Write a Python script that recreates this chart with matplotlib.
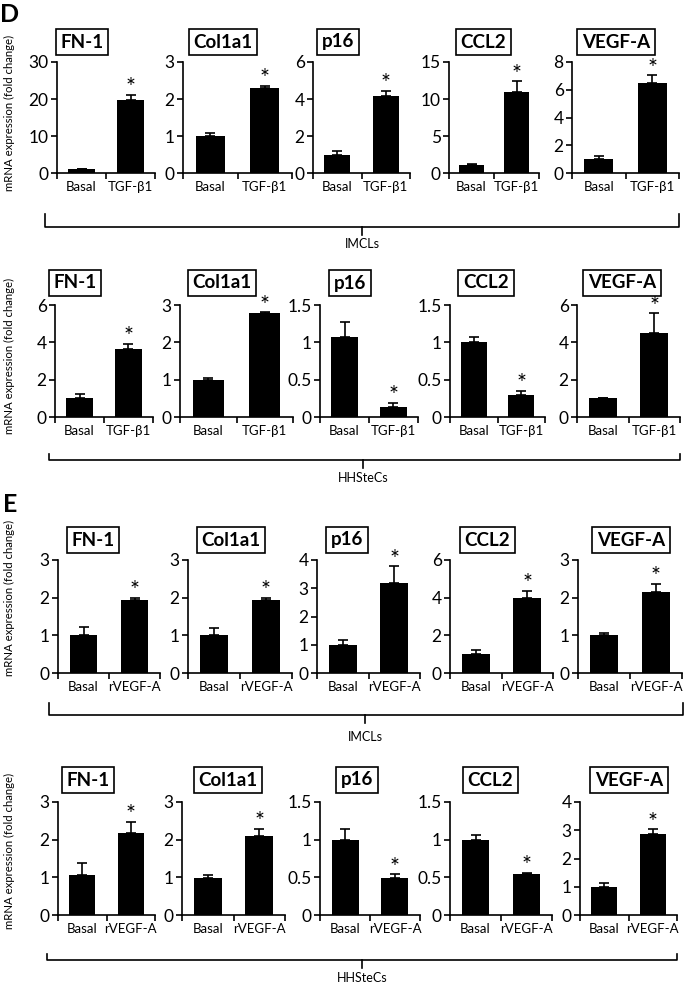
import matplotlib
matplotlib.use("Agg")
import matplotlib.pyplot as plt
import numpy as np

plt.rcParams['font.family'] = ['Lato', 'DejaVu Sans']

genes = ["FN-1", "Col1a1", "p16", "CCL2", "VEGF-A"]

# panel D, IMCLs (TGF-b1)
d_imcl_basal = [1.0, 1.0, 1.0, 1.04, 1.0]
d_imcl_basal_err = [0.08, 0.09, 0.19, 0.2, 0.2]
d_imcl_treat = [19.7, 2.31, 4.16, 10.95, 6.51]
d_imcl_treat_err = [1.4, 0.04, 0.27, 1.45, 0.53]
d_imcl_ymax = [30, 3, 6, 15, 8]
d_imcl_ystep = [10, 1, 2, 5, 2]

# panel D, HHSteCs (TGF-b1)
d_hh_basal = [1.04, 1.0, 1.07, 1.0, 1.0]
d_hh_basal_err = [0.2, 0.04, 0.2, 0.07, 0.04]
d_hh_treat = [3.64, 2.78, 0.13, 0.3, 4.49]
d_hh_treat_err = [0.27, 0.02, 0.06, 0.05, 1.06]
d_hh_ymax = [6, 3, 1.5, 1.5, 6]
d_hh_ystep = [2, 1, 0.5, 0.5, 2]

# panel E, IMCLs (rVEGF-A)
e_imcl_basal = [1.01, 1.01, 1.0, 1.01, 1.0]
e_imcl_basal_err = [0.2, 0.19, 0.16, 0.19, 0.05]
e_imcl_treat = [1.95, 1.95, 3.19, 4.0, 2.16]
e_imcl_treat_err = [0.05, 0.05, 0.58, 0.35, 0.21]
e_imcl_ymax = [3, 3, 4, 6, 3]
e_imcl_ystep = [1, 1, 1, 2, 1]

# panel E, HHSteCs (rVEGF-A)
e_hh_basal = [1.06, 0.99, 1.0, 1.0, 1.0]
e_hh_basal_err = [0.33, 0.07, 0.14, 0.06, 0.13]
e_hh_treat = [2.18, 2.1, 0.49, 0.55, 2.86]
e_hh_treat_err = [0.29, 0.19, 0.05, 0.01, 0.17]
e_hh_ymax = [3, 3, 1.5, 1.5, 4]
e_hh_ystep = [1, 1, 0.5, 0.5, 1]

W, H = 685, 989
fig = plt.figure(figsize=(W / 100, H / 100), dpi=100)

rows = [
    dict(basal=d_imcl_basal, berr=d_imcl_basal_err, treat=d_imcl_treat, terr=d_imcl_treat_err,
         ymax=d_imcl_ymax, ystep=d_imcl_ystep, tname="TGF-β1", group="IMCLs",
         top=62, bot=173, lefts=[57, 183, 313, 449, 572], rights=[155, 292, 410, 539, 679],
         tx=[82, 223, 338, 483, 616], ty=42, by=227, bend=13, bx=[45, 679], mx=362, ly=244, yl=113),
    dict(basal=d_hh_basal, berr=d_hh_basal_err, treat=d_hh_treat, terr=d_hh_treat_err,
         ymax=d_hh_ymax, ystep=d_hh_ystep, tname="TGF-β1", group="HHSteCs",
         top=305, bot=417, lefts=[55, 180, 320, 450, 577], rights=[153, 293, 418, 545, 680],
         tx=[75, 222, 350, 486, 622], ty=283, by=460, bend=6, bx=[49, 680], mx=363, ly=478, yl=356),
    dict(basal=e_imcl_basal, berr=e_imcl_basal_err, treat=e_imcl_treat, terr=e_imcl_treat_err,
         ymax=e_imcl_ymax, ystep=e_imcl_ystep, tname="rVEGF-A", group="IMCLs",
         top=560, bot=673, lefts=[58, 188, 317, 450, 578], rights=[160, 292, 420, 553, 682],
         tx=[93, 231, 347, 487, 631], ty=540, by=715, bend=12, bx=[49, 683], mx=365, ly=737, yl=598),
    dict(basal=e_hh_basal, berr=e_hh_basal_err, treat=e_hh_treat, terr=e_hh_treat_err,
         ymax=e_hh_ymax, ystep=e_hh_ystep, tname="rVEGF-A", group="HHSteCs",
         top=802, bot=915, lefts=[58, 182, 320, 450, 580], rights=[155, 285, 420, 552, 677],
         tx=[88, 228, 357, 490, 629], ty=780, by=960, bend=6, bx=[47, 677], mx=362, ly=978, yl=851),
]

for r in rows:
    for i, gene in enumerate(genes):
        l, rr = r["lefts"][i], r["rights"][i]
        ax = fig.add_axes([l / W, 1 - r["bot"] / H, (rr - l) / W, (r["bot"] - r["top"]) / H])
        vals = [r["basal"][i], r["treat"][i]]
        errs = [r["berr"][i], r["terr"][i]]
        ax.bar([0.5, 1.5], vals, width=0.54, color="black",
               yerr=[[0, 0], errs], error_kw=dict(ecolor="black", elinewidth=1.2, capsize=3.5, capthick=1.2))
        ymax = r["ymax"][i]
        ax.set_ylim(0, ymax)
        ax.set_xlim(0, 2)
        yt = np.arange(0, ymax + 1e-9, r["ystep"][i])
        ax.set_yticks(yt)
        ax.set_yticklabels(["{:g}".format(v) for v in yt], fontsize=12.5)
        ax.set_xticks([0, 1, 2])
        ax.set_xticklabels([])
        ax.set_xticks([0.5, 1.5], minor=True)
        ax.set_xticklabels(["Basal", r["tname"]], minor=True, fontsize=9.5)
        ax.tick_params(axis="x", which="minor", length=0, pad=6)
        ax.tick_params(axis="x", which="major", length=4, width=1.2)
        ax.tick_params(axis="y", length=4, width=1.2, pad=2)
        for s in ["top", "right"]:
            ax.spines[s].set_visible(False)
        ax.spines["left"].set_linewidth(1.2)
        ax.spines["bottom"].set_linewidth(1.2)
        ax.annotate("*", (1.5, vals[1] + errs[1]), xytext=(0, 0.5), textcoords="offset points",
                    ha="center", va="baseline", fontsize=17, annotation_clip=False)
        fig.text(r["tx"][i] / W, 1 - r["ty"] / H, gene, ha="center", va="center",
                 fontsize=13.5, fontweight="bold", zorder=0,
                 bbox=dict(boxstyle="square,pad=0.25", fc="white", ec="black", lw=1.2))

    # bracket below the row
    x0, x1 = r["bx"][0] / W, r["bx"][1] / W
    yb = 1 - r["by"] / H
    ye = 1 - (r["by"] - r["bend"]) / H
    fig.add_artist(plt.Line2D([x0, x0, x1, x1], [ye, yb, yb, ye], color="black", lw=1.2))
    fig.add_artist(plt.Line2D([r["mx"] / W, r["mx"] / W], [yb, yb - 8 / H], color="black", lw=1.2))
    fig.text(r["mx"] / W, 1 - r["ly"] / H, r["group"], ha="center", va="center", fontsize=9)
    fig.text(9 / W, 1 - r["yl"] / H, "mRNA expression (fold change)", rotation=90,
             ha="center", va="center", fontsize=8.2)

fig.text(10 / W, 1 - 14 / H, "D", ha="center", va="center", fontsize=18, fontweight="bold")
fig.text(10 / W, 1 - 505 / H, "E", ha="center", va="center", fontsize=18, fontweight="bold")

fig.savefig("out.png", dpi=100, facecolor="white")
